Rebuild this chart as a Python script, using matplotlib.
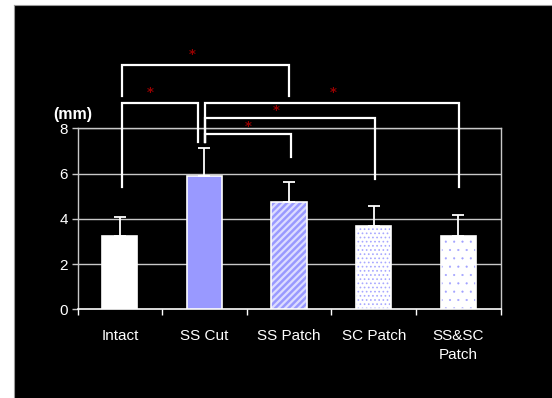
import matplotlib
matplotlib.use("Agg")
import matplotlib.pyplot as plt
from matplotlib.patches import Rectangle
from matplotlib.lines import Line2D
from matplotlib import font_manager

# Data
categories = ["Intact", "SS Cut", "SS Patch", "SC Patch", "SS&SC\nPatch"]
means = [3.25, 5.9, 4.75, 3.7, 3.25]
sds = [0.85, 1.25, 0.88, 0.85, 0.93]
yticks = [0, 2, 4, 6, 8]

# Significance brackets: (x_left, x_right, top, left_leg_end, right_leg_end)
brackets = [
    (0.02, 2.0, 10.80, 9.43, 9.43),
    (0.02, 0.92, 9.12, 5.42, 7.41),
    (1.01, 4.01, 9.12, 7.41, 5.40),
    (1.01, 3.02, 8.45, 7.41, 5.75),
    (1.01, 2.02, 7.77, 7.41, 6.75),
]
stars = [(0.86, 11.24), (0.36, 9.60), (2.52, 9.60), (1.85, 8.77), (1.52, 8.06)]

names = {f.name for f in font_manager.fontManager.ttflist}
narrow = "Liberation Sans Narrow" if "Liberation Sans Narrow" in names else "Liberation Sans"
lab_size = 12 if narrow == "Liberation Sans Narrow" else 11

W, H = 552, 398
fig = plt.figure(figsize=(W / 100, H / 100), dpi=100, facecolor="white")

# black panel with thin grey border on left and top
x0, y0 = 14 / W, 1 - 5 / H
fig.patches.append(Rectangle((x0, 0), 1 - x0, y0, transform=fig.transFigure,
                             facecolor="black", edgecolor="none", zorder=-10))
fig.lines.append(Line2D([x0, x0], [0, y0], transform=fig.transFigure, color="#9a9a9a",
                        lw=0.8, zorder=-5))
fig.lines.append(Line2D([x0, 1], [y0, y0], transform=fig.transFigure, color="#9a9a9a",
                        lw=0.8, zorder=-5))

left, right, top, bottom = 77.5, 500.7, 128.3, 309.3
ax = fig.add_axes([left / W, 1 - bottom / H, (right - left) / W, (bottom - top) / H])
ax.set_zorder(1)
ax.set_facecolor("black")
ax.set_xlim(-0.5, 4.5)
ax.set_ylim(0, 8)

grid_c = "#c8c8c8"
for v in yticks[1:]:
    ax.axhline(v, color=grid_c, lw=1.0, zorder=1)
for s in ["left", "right", "top"]:
    ax.spines[s].set_color(grid_c)
    ax.spines[s].set_linewidth(1.0)
ax.spines["bottom"].set_color("white")
ax.spines["bottom"].set_linewidth(1.2)

x = list(range(len(categories)))
bw = 0.416
blue = "#9999ff"

# Intact: solid white
ax.bar(x[0], means[0], bw, color="white", edgecolor="white", lw=1.2, zorder=3)
# SS Cut: solid blue
ax.bar(x[1], means[1], bw, color=blue, edgecolor="white", lw=1.2, zorder=3)
# SS Patch: blue with light diagonal stripes
plt.rcParams["hatch.linewidth"] = 1.6
ax.bar(x[2], means[2], bw, color=blue, edgecolor="#dcdcff", hatch="/////", lw=0, zorder=3)
ax.bar(x[2], means[2], bw, color="none", edgecolor="white", lw=1.2, zorder=4)
# SC Patch: dense fine dots
plt.rcParams["hatch.linewidth"] = 0.7
ax.bar(x[3], means[3], bw, color="white", edgecolor="#a8a8ff", hatch="....", lw=0, zorder=3)
ax.bar(x[3], means[3], bw, color="none", edgecolor="white", lw=1.2, zorder=4)
# SS&SC Patch: sparse small dots
plt.rcParams["hatch.linewidth"] = 0.3
ax.bar(x[4], means[4], bw, color="white", edgecolor="#a0a0ff", hatch="..", lw=0, zorder=3)
ax.bar(x[4], means[4], bw, color="none", edgecolor="white", lw=1.2, zorder=4)

ax.errorbar(x, means, yerr=[[0] * len(sds), sds], fmt="none", ecolor="white",
            elinewidth=1.3, capsize=4.5, capthick=1.3, zorder=5)

# axes ticks
ax.set_yticks(yticks)
ax.set_yticklabels([str(v) for v in yticks], color="white", fontsize=lab_size, family=narrow)
ax.tick_params(axis="y", colors=grid_c, labelcolor="white", length=4, width=1, pad=3)
ax.set_xticks(x)
ax.set_xticklabels(categories, color="white", fontsize=lab_size, family=narrow,
                   linespacing=1.45, va="top")
ax.tick_params(axis="x", which="major", length=0, pad=14)
ax.set_xticks([i - 0.5 for i in range(len(categories) + 1)], minor=True)
ax.tick_params(axis="x", which="minor", length=4, width=1, colors="white", direction="out")

ax.text(-0.5 - 4.5 / 84.6, 8.62, "(mm)", color="white", fontsize=11.5, fontweight="bold",
        family="Liberation Sans", ha="center", va="center", clip_on=False)

for xl, xr, yt, yl, yr in brackets:
    ax.plot([xl, xl, xr, xr], [yl, yt, yt, yr], color="white", lw=1.6,
            clip_on=False, zorder=6, solid_joinstyle="miter")
for sx, sy in stars:
    ax.text(sx, sy, "*", color="#990000", fontsize=9.5, ha="center", va="center",
            fontweight="bold", clip_on=False, zorder=7)

fig.savefig("out.png", dpi=100, facecolor="white")
